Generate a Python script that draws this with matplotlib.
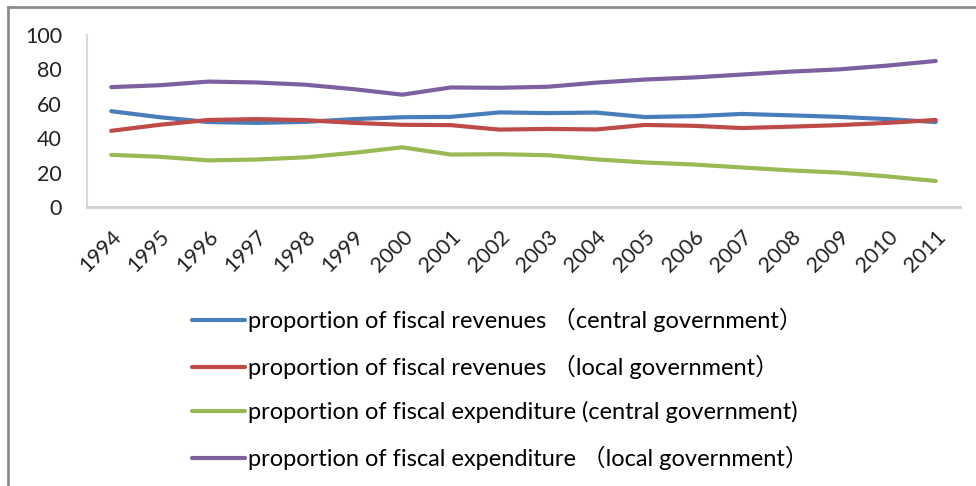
import matplotlib.pyplot as plt
from matplotlib.lines import Line2D

# Shares of central / local government in fiscal revenue and expenditure (%)
years = [str(y) for y in range(1994, 2012)]
rev_central = [55.7, 52.2, 49.4, 48.9, 49.5, 51.1, 52.2, 52.4, 55.0, 54.6,
               54.9, 52.3, 52.8, 54.1, 53.3, 52.4, 51.1, 49.4]
rev_local = [44.3, 47.8, 50.6, 51.1, 50.5, 48.9, 47.8, 47.6, 45.0, 45.4,
             45.1, 47.7, 47.2, 45.9, 46.7, 47.6, 48.9, 50.6]
exp_central = [30.3, 29.2, 27.1, 27.6, 28.9, 31.5, 34.7, 30.5, 30.7, 30.1,
               27.7, 25.9, 24.7, 23.0, 21.3, 20.0, 17.8, 15.1]
exp_local = [69.7, 70.8, 72.9, 72.4, 71.1, 68.5, 65.3, 69.5, 69.3, 69.9,
             72.3, 74.1, 75.3, 77.0, 78.7, 80.0, 82.2, 84.9]

labels = [
    "proportion of fiscal revenues \uff08central government\uff09",
    "proportion of fiscal revenues \uff08local government\uff09",
    "proportion of fiscal expenditure (central government)",
    "proportion of fiscal expenditure \uff08local government\uff09",
]
colors = ["#4a7ebb", "#be4b48", "#98b954", "#7d60a0"]

fonts = ["Lato", "Noto Sans CJK SC", "DejaVu Sans"]
plt.rcParams["font.family"] = fonts

fig = plt.figure(figsize=(9.76, 4.86), dpi=100)
ax = fig.add_axes([87 / 976, 1 - 207 / 486, 873 / 976, 172 / 486])

x = range(len(years))
for vals, c, lab in zip([rev_central, rev_local, exp_central, exp_local], colors, labels):
    ax.plot(x, vals, color=c, linewidth=3, label=lab, solid_capstyle="round")

ax.set_xlim(-0.5, len(years) - 0.5)
ax.set_ylim(0, 100)
ax.set_yticks(range(0, 101, 20))
ax.set_xticks(list(x))
ax.set_xticklabels(years, rotation=45, ha="right", va="top", rotation_mode="anchor")
ax.tick_params(axis="both", length=0, labelsize=15.5, colors="#222222")
ax.tick_params(axis="y", pad=18)
ax.tick_params(axis="x", pad=14)

for s in ["top", "right"]:
    ax.spines[s].set_visible(False)
ax.spines["left"].set_color("#d9d9d9")
ax.spines["left"].set_linewidth(1.5)
ax.spines["bottom"].set_color("#cfcfcf")
ax.spines["bottom"].set_linewidth(2)

fig.legend(loc="upper left", bbox_to_anchor=(192 / 976, 1 - 308 / 486),
           frameon=False, fontsize=17, handlelength=2.25, handletextpad=0.13,
           labelspacing=0.95, borderpad=0, borderaxespad=0)

# outer frame of the chart area
fig.add_artist(Line2D([8 / 976, 8 / 976], [0, 1 - 7 / 486], color="#8c8c8c", lw=2,
                      transform=fig.transFigure))
fig.add_artist(Line2D([8 / 976, 1], [1 - 7 / 486, 1 - 7 / 486], color="#8c8c8c", lw=2,
                      transform=fig.transFigure))

fig.savefig("out.png", dpi=100)
